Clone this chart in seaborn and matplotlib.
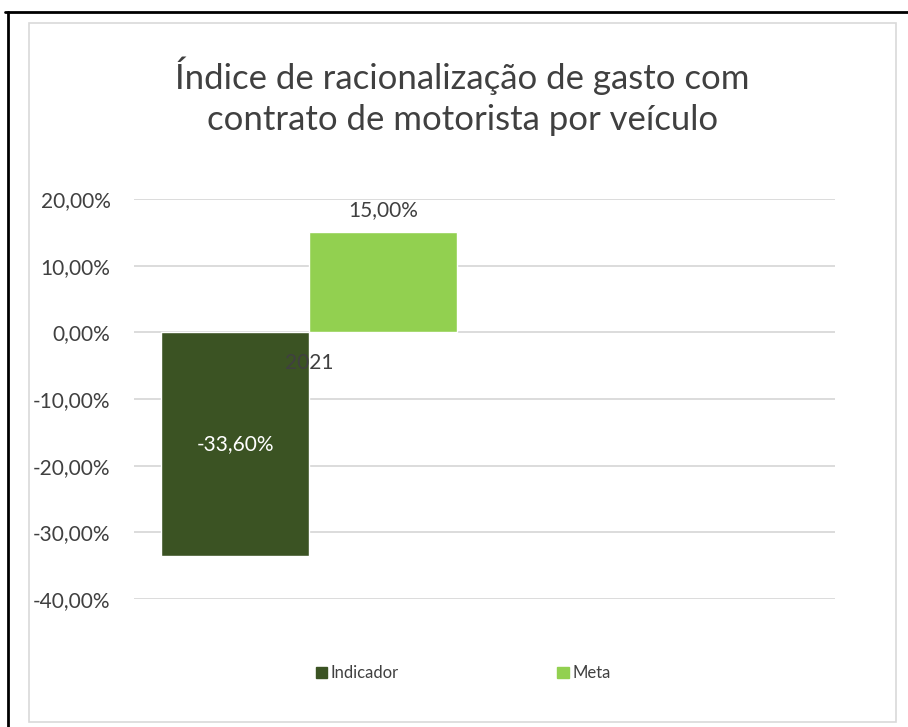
import numpy as np
import pandas as pd
import seaborn as sns
import matplotlib.pyplot as plt
from matplotlib.lines import Line2D
from matplotlib.patches import Rectangle

# ====== data ======
anos = ["2021", ""]
indicador = [-0.336, np.nan]
meta = [0.15, np.nan]
series = ["Indicador", "Meta"]
cores = ["#3B5323", "#92D050"]
yticks = [-0.4, -0.3, -0.2, -0.1, 0.0, 0.1, 0.2]
titulo = "Índice de racionalização de gasto com\ncontrato de motorista por veículo"

df = pd.DataFrame({
    "ano": anos * 2,
    "serie": ["Indicador"] * len(anos) + ["Meta"] * len(anos),
    "valor": indicador + meta,
})

sns.set_theme(style="white")
plt.rcParams["font.family"] = ["Lato", "DejaVu Sans"]
texto = "#404040"

def pct(v):
    if np.isnan(v):
        return ""
    return f"{v*100:.2f}%".replace(".", ",")

fig = plt.figure(figsize=(9.08, 7.27), dpi=100)
ax = fig.add_axes([0.1476, 0.176, 0.772, 0.5503])

# gridlines drawn under the bars, tick labels stay above them
for t in yticks:
    ax.axhline(t, color="#D9D9D9", linewidth=1.3, zorder=0.4)

sns.barplot(data=df, x="ano", y="valor", hue="serie", order=anos, hue_order=series,
            palette=cores, width=0.845, saturation=1, errorbar=None, ax=ax, legend=True)
ax.set_axisbelow(False)

ax.set_ylim(-0.4, 0.2)
ax.set_yticks(yticks)
ax.set_yticklabels([pct(t) for t in yticks])
for s in ["left", "right", "top"]:
    ax.spines[s].set_visible(False)
ax.spines["bottom"].set_position(("data", 0))
ax.spines["bottom"].set_visible(False)
ax.tick_params(axis="x", length=0, pad=15, labelsize=15, labelcolor=texto)
ax.tick_params(axis="y", length=0, pad=17, labelsize=15, labelcolor=texto)
ax.set_xlabel("")
ax.set_ylabel("")

# value labels
ax.bar_label(ax.containers[0], fmt=pct, label_type="center", color="white", fontsize=15)
ax.bar_label(ax.containers[1], fmt=pct, padding=9, color=texto, fontsize=15)

# legend at bottom
ax.get_legend().remove()
handles = [Rectangle((0, 0), 1, 1, color=c) for c in cores]
fig.legend(handles, series, loc="center", bbox_to_anchor=(0.51, 0.074), ncol=2,
           frameon=False, fontsize=12, labelcolor=texto, handlelength=0.7,
           handleheight=0.7, handletextpad=0.2, columnspacing=9.5)

fig.text(0.509, 0.868, titulo, ha="center", va="center", fontsize=25, color=texto,
         linespacing=1.35)

# chart borders
fig.add_artist(Rectangle((29/908, 1-722/727), 867/908, 699/727, transform=fig.transFigure,
                         fill=False, edgecolor="#D9D9D9", linewidth=1.2))
fig.add_artist(Line2D([5/908, 1], [1-11.5/727, 1-11.5/727], color="black", linewidth=2))
fig.add_artist(Line2D([8/908, 8/908], [0, 1-11.5/727], color="black", linewidth=2))

plt.savefig("out.png", dpi=100)
